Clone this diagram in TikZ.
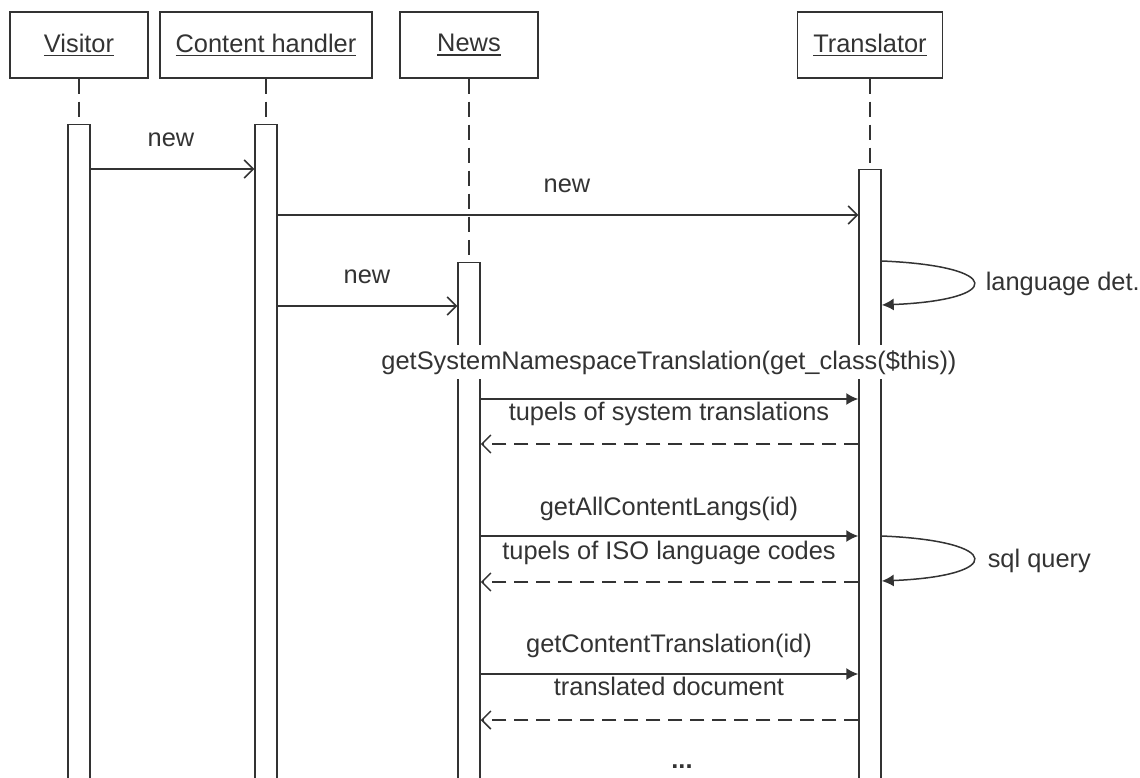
\documentclass[tikz,border=0pt]{standalone}
\usepackage{fontspec}
\setmainfont{Liberation Sans}
\usetikzlibrary{arrows.meta,positioning}

% underlined object name, thicker rule than \underline
\newcommand{\objname}[1]{\setbox0\hbox{#1}%
  \rlap{\raisebox{-4pt}{\rule{\wd0}{1.6pt}}}\box0}

\begin{document}
\begin{tikzpicture}[x=1pt,y=-1pt,line width=1.5pt,color=black!80,
    font=\fontsize{25.4}{30}\selectfont,
    head/.style={draw,rectangle,minimum height=66pt,inner sep=0pt},
    bar/.style={draw,rectangle,fill=white,minimum width=22pt,
      minimum height=700pt,inner sep=0pt},
    life/.style={dash pattern=on 15pt off 8pt},
    call/.style={-{Straight Barb[length=9pt,width=18pt]}},
    sync/.style={-{Latex[length=12pt,width=12pt]}},
    reply/.style={dash pattern=on 14pt off 8pt,
      -{Straight Barb[length=9pt,width=18pt]}},
    lbl/.style={anchor=base,inner sep=0pt}]
  \clip (0,0) rectangle (1140,778);

  % objects
  \node[head,minimum width=138pt] (visitor) at (79,45) {\objname{Visitor}};
  \node[head,minimum width=212pt] (handler) at (266,45) {\objname{Content handler}};
  \node[head,minimum width=138pt] (news) at (469,45) {\objname{News}};
  \node[head,minimum width=145pt] (translator) at (870,45) {\objname{Translator}};

  % activations
  \node[bar,below=45pt of visitor] (visitorBar) {};
  \node[bar,below=45pt of handler] (handlerBar) {};
  \node[bar,below=183pt of news] (newsBar) {};
  \node[bar,below=90pt of translator] (translatorBar) {};
  \draw[life] (visitor) -- (visitorBar);
  \draw[life] (handler) -- (handlerBar);
  \draw[life] (news) -- (newsBar);
  \draw[life] (translator) -- (translatorBar);

  % creation
  \node[lbl] (new1) at (171,147) {new};
  \draw[call] (visitorBar.east |- 0,169) -- (handlerBar.west |- 0,169);
  \node[lbl] (new2) at (567,193) {new};
  \draw[call] (handlerBar.east |- 0,215) -- (translatorBar.west |- 0,215);
  \node[lbl] (new3) at (367,283) {new};
  \draw[call] (handlerBar.east |- 0,306) -- (newsBar.west |- 0,306);

  \draw[sync] (translatorBar.east |- 0,261) .. controls (1004,266) and (1004,300)
    .. (translatorBar.east |- 0,305);
  \node[lbl,anchor=base west] (langdet) at (985,290) {language det.};

  % translations
  \node[lbl,fill=white,inner xsep=2pt,inner ysep=5pt] (sysns) at (669,369)
    {getSystemNamespaceTranslation(get\_class(\$this))};
  \draw[sync] (newsBar.east |- 0,399) -- (translatorBar.west |- 0,399);
  \node[lbl] (systup) at (669,420) {tupels of system translations};
  \draw[reply] (translatorBar.west |- 0,444) -- (newsBar.east |- 0,444);

  \node[lbl] (alllangs) at (669,515) {getAllContentLangs(id)};
  \draw[sync] (newsBar.east |- 0,536) -- (translatorBar.west |- 0,536);
  \node[lbl] (isotup) at (669,559) {tupels of ISO language codes};
  \draw[reply] (translatorBar.west |- 0,582) -- (newsBar.east |- 0,582);
  \draw[sync] (translatorBar.east |- 0,536) .. controls (1004,541) and (1004,576)
    .. (translatorBar.east |- 0,581);
  \node[lbl,anchor=base west] (sql) at (987,567) {sql query};

  \node[lbl] (content) at (669,652) {getContentTranslation(id)};
  \draw[sync] (newsBar.east |- 0,674) -- (translatorBar.west |- 0,674);
  \node[lbl] (transdoc) at (669,695) {translated document};
  \draw[reply] (translatorBar.west |- 0,720) -- (newsBar.east |- 0,720);

  \node[lbl] (more) at (682,768) {\textbf{...}};
\end{tikzpicture}
\end{document}
